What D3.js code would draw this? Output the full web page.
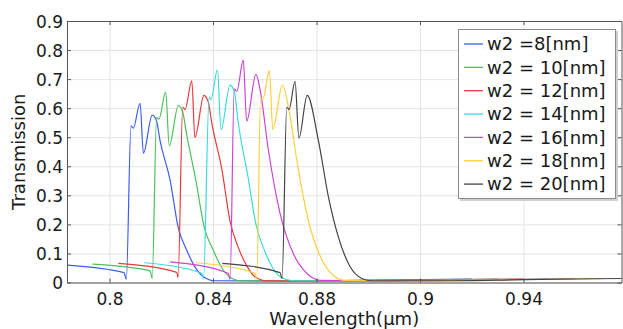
<!DOCTYPE html>
<html>
<head>
<meta charset="utf-8">
<script src="https://cdn.jsdelivr.net/npm/d3@7"></script>
<style>
  body { margin: 0; background: #fff; }
  text { font-family: "DejaVu Sans", sans-serif; fill: #1a1a1a; }
</style>
</head>
<body>
<div id="chart"></div>
<script>
// data (wavelength in um, transmission)
var labels = ["w2 =8[nm]", "w2 = 10[nm]", "w2 = 12[nm]", "w2 = 14[nm]", "w2 = 16[nm]", "w2 = 18[nm]", "w2 = 20[nm]"];
var colors = ["#3a5cf0", "#4cc05a", "#e83a3a", "#38dcdc", "#cc44d4", "#ffcf3a", "#444444"];

var wl8 = [0.7836, 0.8056, 0.8065, 0.8083, 0.8092, 0.8118, 0.8131, 0.8165, 0.8182, 0.8195, 0.8234, 0.8266, 0.8298, 0.8330, 0.8363, 0.8408, 0.8700, 0.9000, 0.9400];
var tr8 = [0.060, 0.034, 0.011, 0.539, 0.531, 0.617, 0.445, 0.576, 0.556, 0.490, 0.353, 0.187, 0.112, 0.054, 0.020, 0.006, 0.005, 0.008, 0.012];

var wl10 = [0.7934, 0.8157, 0.8165, 0.8182, 0.8191, 0.8217, 0.8231, 0.8266, 0.8283, 0.8296, 0.8334, 0.8366, 0.8399, 0.8431, 0.8463, 0.8508, 0.8700, 0.9100, 0.9500];
var tr10 = [0.063, 0.040, 0.014, 0.568, 0.563, 0.655, 0.471, 0.609, 0.587, 0.520, 0.350, 0.190, 0.115, 0.055, 0.020, 0.006, 0.005, 0.008, 0.012];

var wl12 = [0.8034, 0.8260, 0.8265, 0.8283, 0.8292, 0.8318, 0.8330, 0.8365, 0.8382, 0.8395, 0.8434, 0.8466, 0.8498, 0.8530, 0.8562, 0.8608, 0.8900, 0.9200, 0.9600];
var tr12 = [0.066, 0.035, 0.017, 0.604, 0.595, 0.694, 0.499, 0.644, 0.620, 0.550, 0.390, 0.210, 0.120, 0.058, 0.020, 0.006, 0.005, 0.008, 0.012];

var wl14 = [0.8135, 0.8356, 0.8363, 0.8385, 0.8392, 0.8417, 0.8431, 0.8466, 0.8483, 0.8496, 0.8534, 0.8566, 0.8599, 0.8631, 0.8663, 0.8708, 0.9000, 0.9300, 0.9700];
var tr14 = [0.068, 0.032, 0.012, 0.637, 0.629, 0.732, 0.526, 0.679, 0.655, 0.560, 0.370, 0.200, 0.110, 0.050, 0.018, 0.006, 0.005, 0.008, 0.012];

var wl16 = [0.8234, 0.8459, 0.8466, 0.8482, 0.8492, 0.8517, 0.8530, 0.8566, 0.8582, 0.8614, 0.8659, 0.8710, 0.8762, 0.8781, 0.8814, 0.9100, 0.9400, 0.9800];
var tr16 = [0.071, 0.032, 0.010, 0.666, 0.658, 0.765, 0.555, 0.716, 0.663, 0.456, 0.238, 0.100, 0.032, 0.018, 0.007, 0.005, 0.008, 0.013];

var wl18 = [0.8334, 0.8562, 0.8569, 0.8584, 0.8592, 0.8618, 0.8631, 0.8668, 0.8698, 0.8724, 0.8775, 0.8820, 0.8871, 0.8910, 0.9200, 0.9500, 0.9900];
var tr18 = [0.068, 0.032, 0.010, 0.635, 0.629, 0.729, 0.526, 0.679, 0.570, 0.420, 0.190, 0.080, 0.020, 0.007, 0.005, 0.009, 0.013];

var wl20 = [0.8436, 0.8659, 0.8667, 0.8685, 0.8694, 0.8717, 0.8732, 0.8764, 0.8807, 0.8846, 0.8884, 0.8930, 0.8975, 0.9015, 0.9300, 0.9600, 1.0000];
var tr20 = [0.066, 0.034, 0.014, 0.604, 0.595, 0.692, 0.497, 0.644, 0.490, 0.295, 0.158, 0.054, 0.014, 0.006, 0.006, 0.010, 0.014];

var xTicks = [0.80, 0.84, 0.88, 0.92, 0.96];
var xTickLabels = ["0.8", "0.84", "0.88", "0.9", "0.94"];
var yTicks = [0, 0.1, 0.2, 0.3, 0.4, 0.5, 0.6, 0.7, 0.8, 0.9];
var yTickLabels = ["0", "0.1", "0.2", "0.3", "0.4", "0.5", "0.6", "0.7", "0.8", "0.9"];

var wls = [wl8, wl10, wl12, wl14, wl16, wl18, wl20];
var trs = [tr8, tr10, tr12, tr14, tr16, tr18, tr20];
var series = labels.map(function (name, i) {
  return { name: name, color: colors[i], pts: wls[i].map(function (w, j) { return [w, trs[i][j]]; }) };
});

var svgWidth = 623;
var svgHeight = 329;
var plotL = 67, plotR = 621.5, plotT = 21, plotB = 282.5;

var svg = d3.select("#chart")
  .append("svg")
  .attr("width", svgWidth)
  .attr("height", svgHeight);

var x = d3.scaleLinear().domain([0.78357, 0.99787]).range([plotL, plotR]);
var y = d3.scaleLinear().domain([0, 0.9]).range([plotB, plotT]);

// grid
svg.append("g")
  .attr("transform", `translate(0, ${plotB})`)
  .call(d3.axisBottom(x).tickValues(xTicks).tickSize(-(plotB - plotT)).tickFormat(""))
  .call(g => g.select(".domain").remove())
  .selectAll("line").attr("stroke", "#e4e4e4");

svg.append("g")
  .attr("transform", `translate(${plotL}, 0)`)
  .call(d3.axisLeft(y).tickValues(yTicks).tickSize(-(plotR - plotL)).tickFormat(""))
  .call(g => g.select(".domain").remove())
  .selectAll("line").attr("stroke", "#e4e4e4");

// curves
svg.append("clipPath").attr("id", "clip")
  .append("rect").attr("x", plotL).attr("y", plotT).attr("width", plotR - plotL).attr("height", plotB - plotT);

var line = d3.line()
  .x(d => x(d[0]))
  .y(d => y(d[1]))
  .curve(d3.curveMonotoneX);

svg.append("g").attr("clip-path", "url(#clip)")
  .selectAll("path")
  .data(series)
  .enter()
  .append("path")
  .attr("d", d => line(d.pts))
  .attr("fill", "none")
  .attr("stroke", d => d.color)
  .attr("stroke-width", 1.2);

// axes with inward ticks
var bottomAxis = d3.axisBottom(x).tickValues(xTicks).tickSizeInner(-4).tickSizeOuter(0).tickPadding(10)
  .tickFormat((d, i) => xTickLabels[i]);
var leftAxis = d3.axisLeft(y).tickValues(yTicks).tickSizeInner(-4).tickSizeOuter(0).tickPadding(4)
  .tickFormat((d, i) => yTickLabels[i]);

var axisGroup = svg.append("g").attr("class", "axes");
var gx = axisGroup.append("g").attr("transform", `translate(0, ${plotB})`).call(bottomAxis);
var gy = axisGroup.append("g").attr("transform", `translate(${plotL}, 0)`).call(leftAxis);
axisGroup.append("g").attr("transform", `translate(0, ${plotT})`)
  .call(d3.axisTop(x).tickValues(xTicks).tickSizeInner(-4).tickSizeOuter(0).tickFormat(""));
axisGroup.append("g").attr("transform", `translate(${plotR}, 0)`)
  .call(d3.axisRight(y).tickValues(yTicks).tickSizeInner(-4).tickSizeOuter(0).tickFormat(""));

axisGroup.selectAll(".domain").attr("stroke", "#555");
axisGroup.selectAll(".tick line").attr("stroke", "#555");
gx.selectAll("text").style("font-size", "17px").attr("fill", "#1a1a1a");
gy.selectAll("text").style("font-size", "17px").attr("fill", "#1a1a1a").attr("dy", "0.36em");

svg.append("text")
  .attr("x", (plotL + plotR) / 2)
  .attr("y", 325)
  .attr("text-anchor", "middle")
  .style("font-size", "18px")
  .text("Wavelength(µm)");

svg.append("text")
  .attr("transform", `translate(25, ${(plotT + plotB) / 2}) rotate(-90)`)
  .attr("text-anchor", "middle")
  .style("font-size", "18px")
  .text("Transmission");

// legend
var lg = svg.append("g");
lg.append("rect").attr("x", 460).attr("y", 31).attr("width", 158).attr("height", 170).attr("fill", "#d0d0d0");
lg.append("rect").attr("x", 458.5).attr("y", 29.5).attr("width", 157).attr("height", 169)
  .attr("fill", "#fff").attr("stroke", "#8a8a8a");

var rows = lg.selectAll(".row")
  .data(series)
  .enter()
  .append("g")
  .attr("transform", (d, i) => `translate(0, ${44 + i * 23.35})`);
rows.append("line").attr("x1", 464).attr("x2", 483).attr("stroke", d => d.color).attr("stroke-width", 1.3);
rows.append("text").attr("x", 487).attr("dy", "0.35em").style("font-size", "18px").text(d => d.name);
</script>
</body>
</html>
